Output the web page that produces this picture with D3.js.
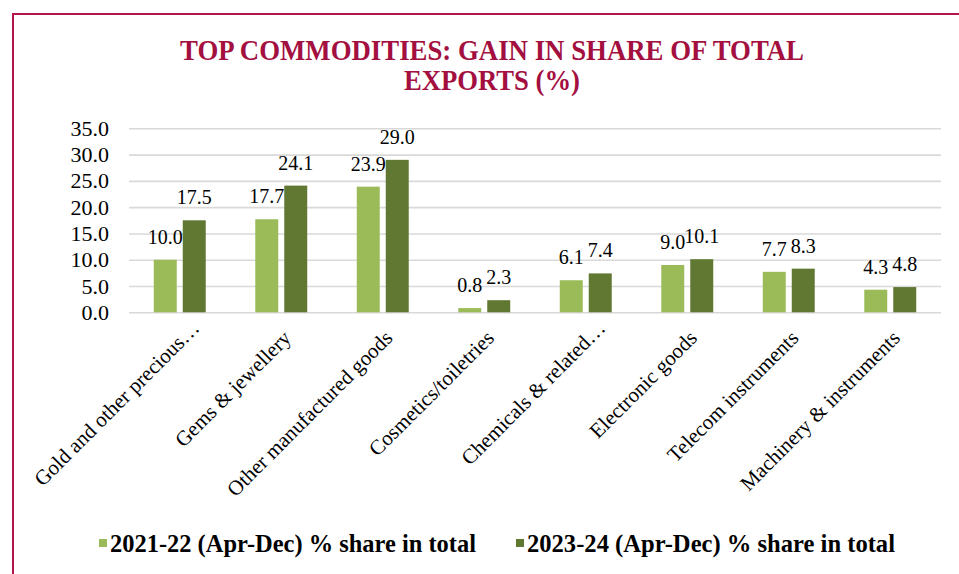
<!DOCTYPE html>
<html>
<head>
<meta charset="utf-8">
<script src="https://cdn.jsdelivr.net/npm/d3@7"></script>
<style>
  body { margin: 0; background: #fff; }
</style>
</head>
<body>
<div id="chart"></div>
<script>
var categories = ["Gold and other precious\u2026", "Gems & jewellery", "Other manufactured goods",
    "Cosmetics/toiletries", "Chemicals & related\u2026", "Electronic goods",
    "Telecom instruments", "Machinery & instruments"]
var seriesNames = ["2021-22 (Apr-Dec) % share in total", "2023-24 (Apr-Dec) % share in total"]
var share2122 = [10.0, 17.7, 23.9, 0.8, 6.1, 9.0, 7.7, 4.3]
var share2324 = [17.5, 24.1, 29.0, 2.3, 7.4, 10.1, 8.3, 4.8]
var yTicks = [0, 5, 10, 15, 20, 25, 30, 35]
var titleLines = ["TOP COMMODITIES: GAIN IN SHARE OF TOTAL", "EXPORTS (%)"]

var W = 959, H = 574
var serif = "'Liberation Serif', 'Times New Roman', serif"
var colors = ["#9bbb59", "#617832"]
var margin = {top: 128.3, left: 129, right: 18, bottom: 261.7}
var plotW = W - margin.left - margin.right,
    plotH = H - margin.top - margin.bottom

var svg = d3.select("#chart").append("svg")
    .attr("width", W)
    .attr("height", H)
    .style("font-family", serif)

// frame (only top and left edges show in the picture)
svg.append("path")
    .attr("d", "M13," + H + "V14H" + W)
    .attr("fill", "none")
    .attr("stroke", "#b3164a")
    .attr("stroke-width", 2)

var titleWidths = [624, 176]
svg.selectAll(".title")
    .data(titleLines)
    .enter()
    .append("text")
    .attr("class", "title")
    .attr("x", 492)
    .attr("y", (d, i) => 60 + i * 30)
    .attr("text-anchor", "middle")
    .style("font-family", serif)
    .attr("font-size", 29)
    .attr("font-weight", "bold")
    .attr("fill", "#a30f3f")
    .attr("textLength", (d, i) => titleWidths[i])
    .attr("lengthAdjust", "spacingAndGlyphs")
    .text(d => d)

var g = svg.append("g")
    .attr("transform", "translate(" + margin.left + "," + margin.top + ")")

var x0 = d3.scaleBand()
    .domain(categories)
    .range([0, plotW])

var groupW = x0.bandwidth() * 0.512
var x1 = d3.scaleBand()
    .domain([0, 1])
    .range([0, groupW])
    .paddingInner(0.207)

var y = d3.scaleLinear()
    .domain([0, 35])
    .range([plotH, 0])

// gridlines + y labels
var yAxis = g.append("g")
    .call(d3.axisLeft(y)
        .tickValues(yTicks)
        .tickSize(-plotW)
        .tickPadding(20)
        .tickFormat(d3.format(".1f")))
yAxis.attr("font-family", null)
yAxis.select(".domain").remove()
yAxis.selectAll(".tick line")
    .attr("stroke", "#d9d9d9")
    .attr("stroke-width", 1.6)
yAxis.selectAll(".tick text")
    .style("font-family", serif)
    .attr("font-size", 22)
    .attr("fill", "#000")

var rows = categories.map((c, i) => ({cat: c, vals: [share2122[i], share2324[i]]}))

var groups = g.selectAll(".grp")
    .data(rows)
    .enter()
    .append("g")
    .attr("class", "grp")
    .attr("transform", d => "translate(" + (x0(d.cat) + (x0.bandwidth() - groupW) / 2) + ",0)")

groups.selectAll("rect")
    .data(d => d.vals.map((v, k) => ({k: k, v: v})))
    .enter()
    .append("rect")
    .attr("x", d => x1(d.k))
    .attr("width", x1.bandwidth())
    .attr("y", d => y(d.v))
    .attr("height", d => plotH - y(d.v))
    .attr("fill", d => colors[d.k])

groups.selectAll(".val")
    .data(d => d.vals.map((v, k) => ({k: k, v: v})))
    .enter()
    .append("text")
    .attr("class", "val")
    .attr("x", d => x1(d.k) + x1.bandwidth() / 2)
    .attr("y", d => y(d.v) - 16)
    .attr("text-anchor", "middle")
    .style("font-family", serif)
    .attr("font-size", 20)
    .attr("fill", "#000")
    .text(d => d3.format(".1f")(d.v))

// category labels, rotated
g.selectAll(".cat")
    .data(categories)
    .enter()
    .append("text")
    .attr("class", "cat")
    .attr("transform", d => "translate(" + (x0(d) + x0.bandwidth() / 2 + 11) + "," + (plotH + 27) + ") rotate(-45)")
    .attr("dx", d => d.endsWith("\u2026") ? 14 : 0)
    .attr("text-anchor", "end")
    .style("font-family", serif)
    .attr("font-size", 21)
    .attr("fill", "#000")
    .text(d => d)

// legend
var legendX = [99, 516], legendW = [366, 368]
var legend = svg.selectAll(".leg")
    .data(seriesNames)
    .enter()
    .append("g")
    .attr("class", "leg")
    .attr("transform", (d, i) => "translate(" + legendX[i] + ",539)")
legend.append("rect")
    .attr("width", 8)
    .attr("height", 8)
    .attr("fill", (d, i) => colors[i])
legend.append("text")
    .attr("x", 11)
    .attr("y", 13)
    .style("font-family", serif)
    .attr("font-size", 25)
    .attr("font-weight", "bold")
    .attr("fill", "#000")
    .attr("textLength", (d, i) => legendW[i])
    .attr("lengthAdjust", "spacingAndGlyphs")
    .text(d => d)
</script>
</body>
</html>
